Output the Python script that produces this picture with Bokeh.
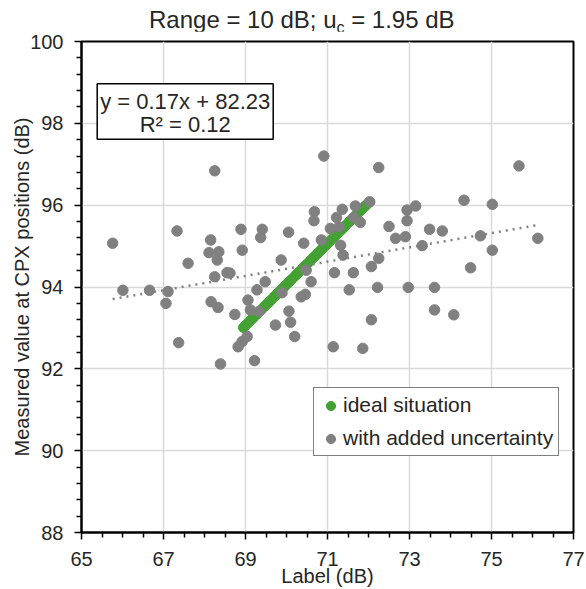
import numpy as np
from bokeh.plotting import figure
from bokeh.layouts import column
from bokeh.models import (FixedTicker, Label, BoxAnnotation, Legend, LegendItem, Range1d, Div)
from bokeh.embed import file_html
from bokeh.resources import INLINE

# ---------------- data ----------------
title_parts = ["Range = 10 dB; u", "c", " = 1.95 dB"]
x_label = "Label (dB)"
y_label = "Measured value at CPX positions (dB)"
x_ticks = [65, 67, 69, 71, 73, 75, 77]
y_ticks = [88, 90, 92, 94, 96, 98, 100]
series_names = ["ideal situation", "with added uncertainty"]

ideal_x = [68.95, 69.01, 69.08, 69.14, 69.19, 69.27, 69.33, 69.38, 69.46, 69.52,
           69.57, 69.63, 69.71, 69.76, 69.82, 69.89, 69.95, 70.02, 70.07, 70.13,
           70.21, 70.26, 70.31, 70.39, 70.45, 70.50, 70.58, 70.63, 70.69, 70.76,
           70.82, 70.88, 70.95, 71.01, 71.06, 71.14, 71.20, 71.25, 71.33, 71.39,
           71.44, 71.52, 71.57, 71.63, 71.70, 71.76, 71.83, 71.89, 71.94, 72.02]
ideal_y = [93.01, 93.07, 93.14, 93.20, 93.25, 93.33, 93.39, 93.44, 93.52, 93.58,
           93.63, 93.69, 93.77, 93.82, 93.88, 93.95, 94.01, 94.08, 94.13, 94.19,
           94.27, 94.32, 94.37, 94.45, 94.51, 94.56, 94.64, 94.69, 94.75, 94.82,
           94.88, 94.94, 95.01, 95.07, 95.12, 95.20, 95.26, 95.31, 95.39, 95.45,
           95.50, 95.58, 95.63, 95.69, 95.76, 95.82, 95.89, 95.95, 96.00, 96.08]

meas_x = [65.76, 68.25, 67.33, 66.01, 66.66, 67.11, 67.06, 67.60, 68.15, 68.11,
          68.35, 68.31, 68.25, 68.55, 68.62, 68.16, 68.33, 67.37, 68.39, 68.89,
          68.92, 69.41, 69.37, 70.05, 69.87, 70.42, 69.48, 69.28, 69.06, 69.89,
          70.60, 70.36, 70.46, 68.74, 69.12, 69.33, 70.06, 70.10, 69.73, 70.20,
          69.04, 68.92, 68.82, 69.22, 70.68, 70.67, 70.85, 70.48, 70.91, 72.25,
          75.67, 72.03, 74.33, 75.02, 73.15, 72.94, 72.94, 72.50, 72.66, 72.90,
          73.49, 73.80, 74.73, 76.13, 73.31, 75.02, 74.49, 72.25, 72.07, 71.63,
          71.17, 71.38, 71.32, 71.53, 72.22, 72.97, 73.61, 73.61, 74.08, 72.07,
          71.14, 71.86, 71.36, 71.68, 71.22, 71.07, 71.28, 71.64, 71.80]
meas_y = [95.07, 96.84, 95.37, 93.92, 93.92, 93.89, 93.60, 94.58, 95.15, 94.84,
          94.86, 94.66, 94.25, 94.35, 94.34, 93.64, 93.50, 92.64, 92.12, 95.41,
          94.90, 95.41, 95.21, 95.34, 94.66, 95.07, 94.13, 93.93, 93.68, 93.86,
          94.13, 93.76, 93.82, 93.33, 93.44, 93.40, 93.41, 93.14, 93.07, 92.79,
          92.79, 92.67, 92.54, 92.20, 95.84, 95.62, 95.15, 94.41, 97.20, 96.92,
          96.96, 96.08, 96.12, 96.02, 95.98, 95.88, 95.62, 95.48, 95.19, 95.23,
          95.41, 95.37, 95.25, 95.19, 95.01, 94.90, 94.47, 94.70, 94.50, 94.35,
          94.35, 94.78, 95.02, 93.93, 93.99, 93.99, 93.99, 93.44, 93.32, 93.20,
          92.54, 92.50, 95.90, 95.98, 95.70, 95.43, 95.47, 95.70, 95.58]

trend_slope = 0.1745
trend_intercept = 82.23
eq_lines = ["y = 0.17x + 82.23", "R\u00b2 = 0.12"]

# ---------------- layout ----------------
W, H = 586, 589
TITLE_H = 31
FL, FR, FT, FB = 81, 573, 41, 533          # frame in page pixels
XMIN, XMAX, YMIN, YMAX = 65, 77, 88, 100


def dx(px):
    return XMIN + (px - FL) * (XMAX - XMIN) / (FR - FL)


def dy(py):
    return YMAX - (py - FT) * (YMAX - YMIN) / (FB - FT)


FONT = "Liberation Sans"
TXT = "#262626"
GREEN = "#43a233"
GRAY = "#808080"

title_div = Div(
    text=(f'{title_parts[0]}<span style="font-size:16px;vertical-align:-5px">'
          f'{title_parts[1]}</span>{title_parts[2]}'),
    width=W, height=TITLE_H, margin=(0, 0, 0, 0),
    styles={"font-family": FONT, "font-size": "24px", "color": TXT,
            "padding-left": "149px", "padding-top": "6px", "white-space": "nowrap",
            "line-height": "normal", "overflow": "visible"})

p = figure(width=W, height=H - TITLE_H, x_range=Range1d(XMIN, XMAX),
           y_range=Range1d(YMIN, YMAX),
           output_backend="svg", toolbar_location=None,
           min_border_left=FL, min_border_right=W - FR,
           min_border_top=FT - TITLE_H, min_border_bottom=H - FB)
p.margin = (0, 0, 0, 0)
p.background_fill_color = "white"
p.border_fill_color = "white"
p.outline_line_color = "black"
p.outline_line_width = 2

x_minor = [t + 0.5 * k for t in x_ticks[:-1] for k in range(1, 4)]
y_minor = [t + 0.4 * k for t in y_ticks[:-1] for k in range(1, 5)]
p.xaxis.ticker = FixedTicker(ticks=x_ticks, minor_ticks=x_minor)
p.yaxis.ticker = FixedTicker(ticks=y_ticks, minor_ticks=y_minor)

for ax in (p.xaxis, p.yaxis):
    ax.axis_line_color = "black"
    ax.axis_line_width = 2
    ax.major_tick_line_color = "black"
    ax.minor_tick_line_color = "black"
    ax.major_tick_line_width = 1.5
    ax.minor_tick_line_width = 1.5
    ax.major_tick_out = 7
    ax.major_tick_in = 0
    ax.minor_tick_out = 5
    ax.minor_tick_in = 0
    ax.major_label_text_font = FONT
    ax.major_label_text_font_size = "20px"
    ax.major_label_text_color = TXT
    ax.axis_label_text_font = FONT
    ax.axis_label_text_font_size = "20px"
    ax.axis_label_text_font_style = "normal"
    ax.axis_label_text_color = TXT
p.xaxis.major_label_standoff = 12
p.yaxis.major_label_standoff = 11
p.xaxis.axis_label = x_label
p.yaxis.axis_label = y_label
p.xaxis.axis_label_standoff = -4
p.yaxis.axis_label_standoff = -6

p.xgrid.ticker = FixedTicker(ticks=x_ticks)
p.ygrid.ticker = FixedTicker(ticks=y_ticks)
p.grid.grid_line_color = "#d9d9d9"
p.grid.grid_line_width = 1.5

r_ideal = p.scatter(ideal_x, ideal_y, size=10, color=GREEN, line_color=GREEN)
r_meas = p.scatter(meas_x, meas_y, size=10.5, color=GRAY, line_color=GRAY)

tx = [min(meas_x), max(meas_x)]
ty = [trend_slope * v + trend_intercept for v in tx]
p.line(tx, ty, line_color=GRAY, line_width=2.5, line_dash="2 5")

# equation box
p.add_layout(BoxAnnotation(left=dx(96.7), right=dx(272.7), top=dy(83.3), bottom=dy(139),
                           fill_color="white", fill_alpha=1.0,
                           line_color="black", line_alpha=1.0, line_width=1.5))
p.add_layout(Label(x=dx(184.7), y=dy(100.7), text=eq_lines[0], text_align="center",
                   text_baseline="middle", text_font=FONT, text_font_size="22px",
                   text_color=TXT))
p.add_layout(Label(x=dx(184.7), y=dy(124.0), text=eq_lines[1], text_align="center",
                   text_baseline="middle", text_font=FONT, text_font_size="22px",
                   text_color=TXT))

# legend
legend = Legend(items=[LegendItem(label=series_names[0], renderers=[r_ideal]),
                       LegendItem(label=series_names[1], renderers=[r_meas])],
                location=(232, 76))
legend.label_text_font = FONT
legend.label_text_font_size = "21px"
legend.label_text_color = TXT
legend.border_line_color = "black"
legend.border_line_width = 1.5
legend.background_fill_color = "white"
legend.background_fill_alpha = 1.0
legend.padding = 5
legend.spacing = 9
legend.label_height = 23
legend.glyph_height = 23
legend.glyph_width = 23
legend.label_standoff = 1
legend.margin = 0
p.add_layout(legend)

layout = column(title_div, p, spacing=0, margin=(0, 0, 0, 0))
open("out.html", "w").write(file_html(layout, INLINE))
